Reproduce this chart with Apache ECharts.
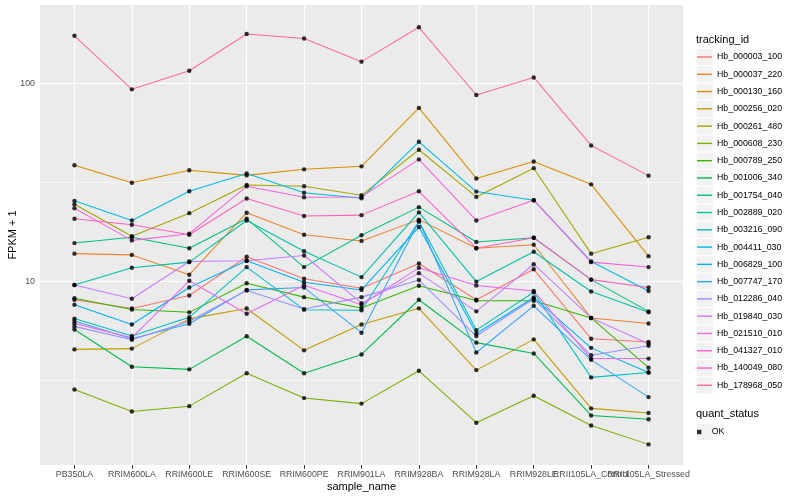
<!DOCTYPE html>
<html><head><meta charset="utf-8">
<script src="https://cdn.jsdelivr.net/npm/echarts@6/dist/echarts.min.js"></script>
<style>html,body{margin:0;padding:0;background:#fff}#c{width:800px;height:500px}</style>
</head><body><div id="c"></div>
<script>
const categories = ['PB350LA','RRIM600LA','RRIM600LE','RRIM600SE','RRIM600PE','RRIM901LA','RRIM928BA','RRIM928LA','RRIM928LE','RRII105LA_Control','RRII105LA_Stressed'];
const trackingIds = ['Hb_000003_100','Hb_000037_220','Hb_000130_160','Hb_000256_020','Hb_000261_480','Hb_000608_230','Hb_000789_250','Hb_001006_340','Hb_001754_040','Hb_002889_020','Hb_003216_090','Hb_004411_030','Hb_006829_100','Hb_007747_170','Hb_012286_040','Hb_019840_030','Hb_021510_010','Hb_041327_010','Hb_140049_080','Hb_178968_050'];
const colors = ['#F8766D','#EA8331','#D89000','#C09B00','#A3A500','#7CAE00','#39B600','#00BB4E','#00BF7D','#00C1A3','#00BFC4','#00BAE0','#00B0F6','#35A2FF','#9590FF','#C77CFF','#E76BF3','#FA62DB','#FF62BC','#FF6C91'];
const yTickValues = [10, 100];
const yMinorGrid = [3.16, 31.6];

const hb_000003_100 = [8.07, 7.29, 8.48, 13.3, 10.3, 9.23, 12.3, 8.07, 11.5, 5.13, 4.94];
const hb_000037_220 = [13.8, 13.6, 10.8, 22.2, 17.2, 16.0, 20.5, 14.7, 15.3, 6.53, 6.12];
const hb_000130_160 = [38.6, 31.5, 36.4, 34.3, 36.8, 38.1, 75.2, 33.1, 40.3, 30.9, 13.4];
const hb_000256_020 = [4.53, 4.57, 6.46, 7.29, 4.48, 6.05, 7.30, 3.56, 5.09, 2.28, 2.16];
const hb_000261_480 = [24.5, 16.9, 22.1, 30.7, 30.2, 27.2, 46.2, 26.7, 37.3, 13.8, 16.7];
const hb_000608_230 = [2.84, 2.20, 2.34, 3.43, 2.57, 2.41, 3.53, 1.93, 2.64, 1.87, 1.50];
const hb_000789_250 = [8.22, 7.20, 6.97, 9.77, 8.32, 7.33, 9.50, 7.99, 7.97, 6.53, 3.66];
const hb_001006_340 = [5.71, 3.70, 3.59, 5.28, 3.43, 4.27, 8.07, 4.90, 4.32, 2.10, 2.01];
const hb_001754_040 = [15.6, 16.7, 14.7, 20.7, 11.8, 17.1, 23.7, 15.8, 16.6, 10.2, 7.05];
const hb_002889_020 = [9.58, 11.7, 12.5, 20.3, 14.2, 10.5, 22.3, 9.97, 14.1, 8.88, 6.97];
const hb_003216_090 = [6.48, 5.29, 6.58, 11.8, 7.19, 7.14, 20.1, 5.67, 8.81, 3.27, 3.46];
const hb_004411_030 = [25.5, 20.3, 28.5, 35.1, 28.0, 26.3, 50.7, 28.4, 25.7, 12.6, 8.94];
const hb_006829_100 = [7.61, 6.05, 9.30, 12.7, 9.89, 9.05, 18.8, 5.45, 8.29, 4.61, 3.46];
const hb_007747_170 = [6.31, 5.13, 6.10, 9.05, 9.30, 5.50, 20.1, 4.37, 7.52, 4.01, 2.60];
const hb_012286_040 = [5.92, 5.07, 6.29, 8.98, 7.24, 8.32, 10.15, 5.29, 8.16, 4.23, 4.72];
const hb_019840_030 = [9.58, 8.16, 12.6, 12.7, 13.5, 7.76, 11.0, 7.05, 12.2, 6.53, 4.84];
const hb_021510_010 = [6.13, 5.19, 10.06, 6.86, 9.55, 7.61, 11.7, 9.52, 8.94, 4.07, 4.07];
const hb_041327_010 = [23.4, 16.1, 17.4, 30.2, 26.6, 26.7, 41.3, 20.3, 25.7, 12.5, 11.8];
const hb_140049_080 = [20.7, 19.3, 17.2, 26.2, 21.4, 21.6, 28.5, 14.7, 16.6, 10.2, 9.3];
const hb_178968_050 = [174, 93.3, 115.8, 177.8, 168.5, 128.8, 192.1, 87.4, 107.2, 48.6, 34.2];

const seriesValues = [hb_000003_100, hb_000037_220, hb_000130_160, hb_000256_020, hb_000261_480, hb_000608_230, hb_000789_250, hb_001006_340, hb_001754_040, hb_002889_020, hb_003216_090, hb_004411_030, hb_006829_100, hb_007747_170, hb_012286_040, hb_019840_030, hb_021510_010, hb_041327_010, hb_140049_080, hb_178968_050];

const FONT = '"Liberation Sans", Arial, Helvetica, sans-serif';
const catIdx = categories.map((c, i) => i);
// label groups on separate axes so overlapping labels are all drawn, as in the reference
const labelGroups = [catIdx.slice(0, -2), catIdx.slice(-2, -1), catIdx.slice(-1)];

const gridSeries = {
  type: 'line', name: '__grid', data: [[0, 10]], silent: true, z: 1,
  symbol: 'none', showSymbol: false, lineStyle: { opacity: 0 }, itemStyle: { opacity: 0 },
  markLine: {
    silent: true, z: 1, animation: false, symbol: ['none', 'none'], label: { show: false },
    emphasis: { disabled: true },
    data: [].concat(
      yMinorGrid.map(v => ({ yAxis: v, lineStyle: { color: '#FFFFFF', width: 0.55, type: 'solid', opacity: 1 } })),
      yTickValues.map(v => ({ yAxis: v, lineStyle: { color: '#FFFFFF', width: 1.1, type: 'solid', opacity: 1 } })),
      catIdx.map(i => ({ xAxis: i, lineStyle: { color: '#FFFFFF', width: 1.1, type: 'solid', opacity: 1 } }))
    )
  }
};

const lineSeries = trackingIds.map((name, k) => ({
  type: 'line', name: name, z: 2,
  data: seriesValues[k].map((v, i) => [i, v]),
  showSymbol: false, symbol: 'none',
  lineStyle: { color: colors[k], width: 1.05 },
  itemStyle: { color: colors[k] },
  emphasis: { disabled: true }, animation: false
}));

const pointData = [];
seriesValues.forEach(arr => arr.forEach((v, i) => pointData.push([i, v])));
const pointSeries = {
  type: 'scatter', name: 'OK', z: 3, data: pointData,
  symbol: 'circle', symbolSize: 4.4, itemStyle: { color: '#000000' },
  emphasis: { disabled: true }, animation: false
};

const KEY_X = 696.5, KEY0 = 57, KEY_STEP = 17.28, KEY_SIZE = 16.2;
const keyRects = trackingIds.map((n, k) => ({
  type: 'rect', z: -1, silent: true,
  shape: { x: KEY_X, y: KEY0 + k * KEY_STEP - KEY_SIZE / 2, width: KEY_SIZE, height: KEY_SIZE },
  style: { fill: '#F2F2F2' }
}));
keyRects.push({ type: 'rect', z: -1, silent: true,
  shape: { x: KEY_X, y: 432 - KEY_SIZE / 2, width: KEY_SIZE, height: KEY_SIZE }, style: { fill: '#F2F2F2' } });

const xLabelStyle = { fontSize: 8.8, color: '#4D4D4D', margin: 5, fontFamily: FONT, hideOverlap: false, showMinLabel: true, showMaxLabel: true };

const xAxes = labelGroups.map((grp, g) => {
  const ax = {
    type: 'value', min: -0.6, max: 10.6, position: 'bottom', offset: 0,
    axisLine: { show: false }, splitLine: { show: false },
    axisTick: g === 0 ? { show: true, customValues: catIdx, length: 3.7, lineStyle: { color: '#333333', width: 1 } } : { show: false },
    axisLabel: Object.assign({ customValues: grp, formatter: v => categories[Math.round(v)] }, xLabelStyle)
  };
  if (g === 0) {
    ax.name = 'sample_name'; ax.nameLocation = 'middle'; ax.nameGap = 16.5; ax.nameMoveOverlap = false;
    ax.nameTextStyle = { fontSize: 11, color: '#000', fontFamily: FONT };
  }
  return ax;
});

const option = {
  animation: false,
  backgroundColor: '#FFFFFF',
  textStyle: { fontFamily: FONT },
  grid: { left: 40, right: 117, top: 5, bottom: 35, show: true, backgroundColor: '#EBEBEB', borderWidth: 0, containLabel: false, outerBoundsMode: 'none' },
  title: [
    { text: 'tracking_id', left: 696, top: 34, padding: 0, textStyle: { fontSize: 11, fontWeight: 'normal', color: '#000', fontFamily: FONT } },
    { text: 'quant_status', left: 696, top: 408, padding: 0, textStyle: { fontSize: 11, fontWeight: 'normal', color: '#000', fontFamily: FONT } }
  ],
  legend: [
    { orient: 'vertical', left: 697, top: KEY0 - KEY_STEP / 2, padding: 0, itemGap: 0, itemWidth: 15, itemHeight: 1.4,
      icon: 'rect', selectedMode: false,
      textStyle: { fontSize: 8.8, lineHeight: KEY_STEP, color: '#000', fontFamily: FONT },
      data: trackingIds.map((n, k) => ({ name: n, icon: 'rect', itemStyle: { color: colors[k], opacity: 1 } })) },
    { orient: 'vertical', left: 697, top: 432 - KEY_STEP / 2, padding: 0, itemGap: 0, itemWidth: 15, itemHeight: 4.4,
      icon: 'path://M0,0h10v10h-10z', symbolKeepAspect: true, selectedMode: false,
      textStyle: { fontSize: 8.8, lineHeight: KEY_STEP, color: '#000', fontFamily: FONT },
      data: [{ name: 'OK', itemStyle: { color: '#000' } }] }
  ],
  xAxis: xAxes,
  yAxis: {
    type: 'log', logBase: 10, min: 1.18, max: 249,
    axisLine: { show: false }, splitLine: { show: false },
    axisTick: { show: true, customValues: yTickValues, length: 3.7, lineStyle: { color: '#333333', width: 1 } },
    axisLabel: { customValues: yTickValues, fontSize: 8.8, color: '#4D4D4D', margin: 5, fontFamily: FONT },
    name: 'FPKM + 1', nameLocation: 'middle', nameGap: 21.5, nameRotate: 90, nameMoveOverlap: false,
    nameTextStyle: { fontSize: 11, color: '#000', fontFamily: FONT }
  },
  graphic: keyRects,
  series: [gridSeries].concat(lineSeries, [pointSeries])
};

const chart = echarts.init(document.getElementById('c'), null, { renderer: 'canvas' });
chart.setOption(option);
</script>
</body></html>
